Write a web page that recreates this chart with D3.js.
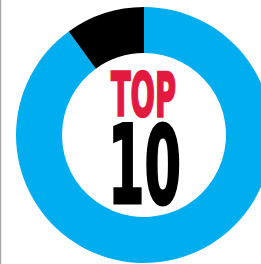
<!DOCTYPE html>
<html><head><meta charset="utf-8">
<script src="https://cdn.jsdelivr.net/npm/d3@7"></script>
<style>html,body{margin:0;padding:0;background:#fff;overflow:hidden}</style>
</head><body>
<script>
const categories = ["Other", "Top 10"];
const values = [90, 10];
const colors = ["#00AEEF", "#000000"];
const titleTop = "TOP";
const titleNum = "10";

const W = 261, H = 264;
const svg = d3.select("body").append("svg").attr("width", W).attr("height", H);

svg.append("line").attr("x1", 0.5).attr("x2", 0.5).attr("y1", 0).attr("y2", H)
  .attr("stroke", "#aaaaaa").attr("stroke-width", 1.5);

const cx = 144, cy = 135, R = 128, r = 82;
const pie = d3.pie().sort(null).value(d => d)(values);
const arc = d3.arc().innerRadius(r).outerRadius(R);
const g = svg.append("g").attr("transform", `translate(${cx},${cy})`);
g.selectAll("path").data(pie).join("path")
  .attr("d", arc).attr("fill", (d, i) => colors[i]);

g.append("text").text(titleTop)
  .attr("x", -33).attr("y", 116 - cy)
  .attr("font-family", "DejaVu Sans").attr("font-weight", "bold")
  .attr("font-size", 61).attr("fill", "#E31A40")
  .attr("stroke", "#E31A40").attr("stroke-width", 2.4).attr("stroke-linejoin", "miter")
  .attr("textLength", 65).attr("lengthAdjust", "spacingAndGlyphs");

g.append("text").text(titleNum)
  .attr("x", -36).attr("y", 203 - cy)
  .attr("font-family", "DejaVu Sans").attr("font-weight", "bold")
  .attr("font-size", 109).attr("fill", "#000")
  .attr("stroke", "#000").attr("stroke-width", 3).attr("stroke-linejoin", "miter")
  .attr("textLength", 73).attr("lengthAdjust", "spacingAndGlyphs");
</script>
</body></html>
